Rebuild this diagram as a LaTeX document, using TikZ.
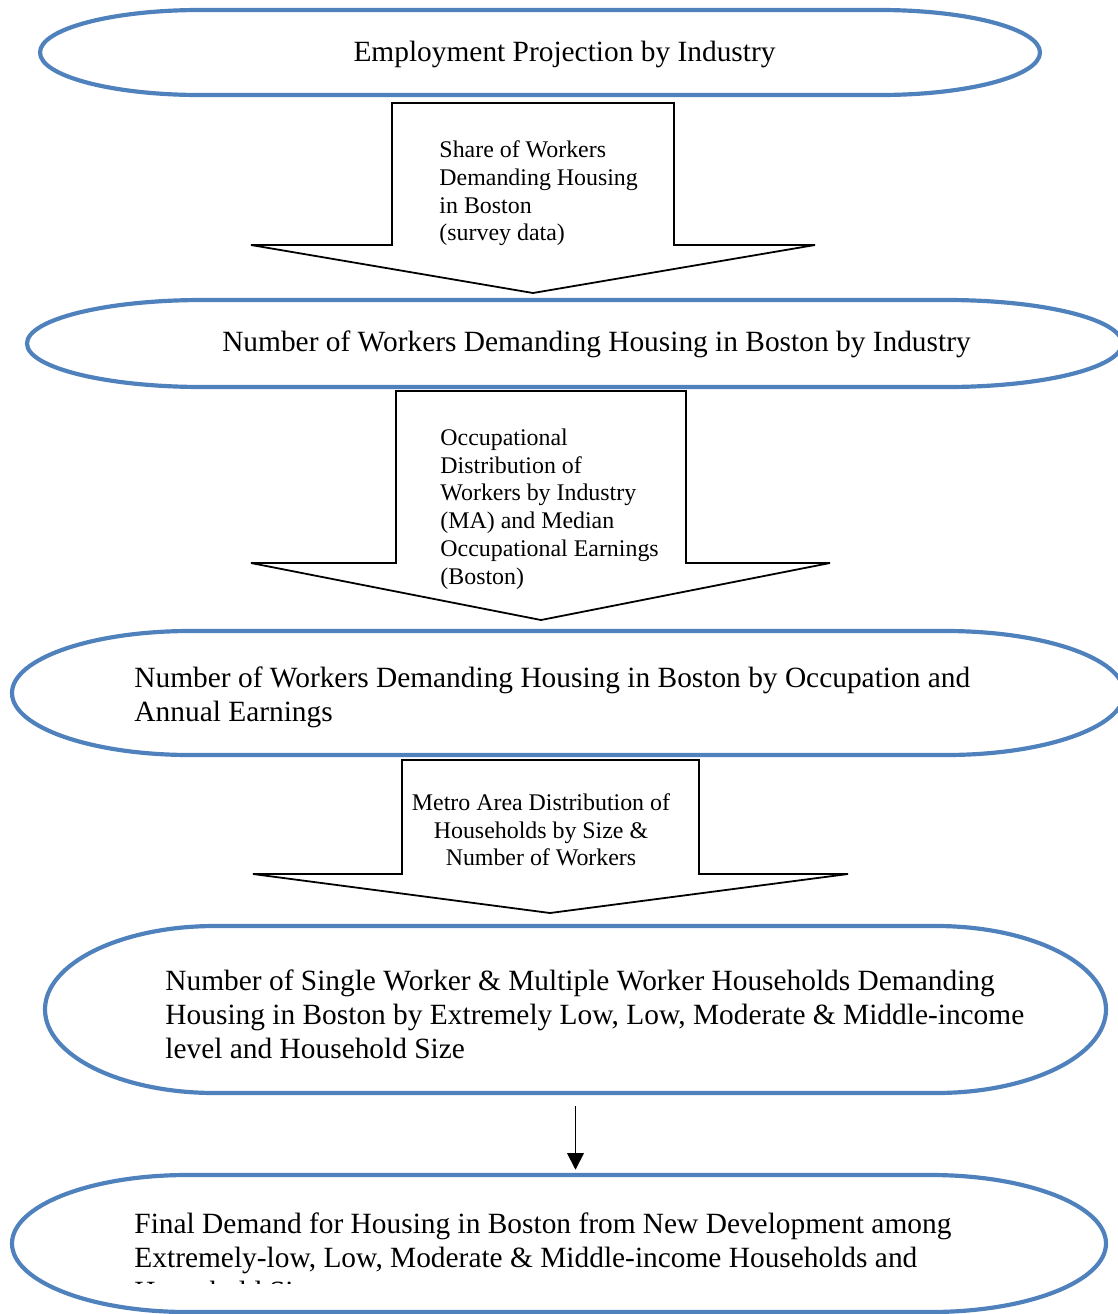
\documentclass[tikz,border=0pt]{standalone}
\usepackage{fontspec}
\setmainfont{Liberation Serif}
\usetikzlibrary{arrows.meta}

\definecolor{stageblue}{RGB}{79, 129, 189}

\tikzset{
	stageline/.style={draw=stageblue, line width=1.75pt, fill=white},
	stagebox/.style={rectangle, draw=none, inner sep=0pt},
	stagetext/.style={font=\fontsize{12.3}{14.2}\selectfont, inner sep=0pt, align=left},
	blockarrow/.style={draw=black, line width=0.75pt, fill=white, line join=miter},
	arrowtext/.style={font=\fontsize{10}{11.6}\selectfont, inner sep=0pt},
	flow/.style={-{Triangle[width=7pt,length=7pt]}, line width=0.75pt},
}

\begin{document}
\begin{tikzpicture}[x=0.4186pt, y=0.4186pt] % 1 Einheit = 1 Pixel der Vorlage
		
		% Rahmen (Bild wird am Rand abgeschnitten)
		\path[use as bounding box, clip] (0,0) rectangle (1118,-1314);
		
		% Blockpfeile zwischen den Stufen
		\foreach \sl/\sr/\st/\hy/\hl/\hr/\tx/\ty in {392/674/103/245/251/815/533/293, 396/686/391/563/251/830/541/620, 402/699/760/874/253/848/550/913} {
			\draw[blockarrow] (\sl,-\st) -- (\sl,-\hy) -- (\hl,-\hy) -- (\tx,-\ty) -- (\hr,-\hy) -- (\sr,-\hy) -- (\sr,-\st) -- cycle;
		}
		
		% Stufen (Ellipsen mit geraden Kanten)
		\foreach \i/\cx/\cy/\w/\h in {1/540/52.5/1000/85, 2/574.5/343.5/1095/87, 3/568/693/1112/124, 4/575.5/1009.5/1061/167, 5/559/1243.5/1094/137} {
			\pgfmathsetmacro{\rx}{0.16*\w}
			\node[stagebox, minimum width=\w*0.4186pt, minimum height=\h*0.4186pt] (s\i) at (\cx,-\cy) {};
			\draw[stageline] (\cx-\w/2+\rx,-\cy+\h/2) -- (\cx+\w/2-\rx,-\cy+\h/2)
				arc[start angle=90, end angle=-90, x radius=\rx, y radius=\h/2]
				-- (\cx-\w/2+\rx,-\cy-\h/2)
				arc[start angle=270, end angle=90, x radius=\rx, y radius=\h/2] -- cycle;
		}
		
		% Beschriftung der Stufen
		\node[stagetext] (t1) at (564.5,-54.5) {Employment Projection by Industry};
		\node[stagetext] (t2) at (596.5,-344) {Number of Workers Demanding Housing in Boston by Industry};
		\node[stagetext, anchor=west] (t3) at (134,-697.5) {Number of Workers Demanding Housing in Boston by Occupation and\\Annual Earnings};
		\node[stagetext, anchor=west] (t4) at (165,-1014) {Number of Single Worker \& Multiple Worker Households Demanding\\Housing in Boston by Extremely Low, Low, Moderate \& Middle-income\\level and Household Size};
		\begin{scope}
			\clip (0,-1180) rectangle (1118,-1283);
			\node[stagetext, anchor=west] (t5) at (134,-1257) {Final Demand for Housing in Boston from New Development among\\Extremely-low, Low, Moderate \& Middle-income Households and\\Household Size};
		\end{scope}
		
		% Beschriftung der Blockpfeile
		\node[arrowtext, anchor=west, align=left] (a1) at (439,-193.5) {Share of Workers\\Demanding Housing\\in Boston\\(survey data)};
		\node[arrowtext, anchor=west, align=left] (a2) at (440,-509) {Occupational\\Distribution of\\Workers by Industry\\(MA) and Median\\Occupational Earnings\\(Boston)};
		\node[arrowtext, align=center] (a3) at (541,-830) {Metro Area Distribution of\\Households by Size \&\\Number of Workers};
		
		% Pfeil zur letzten Stufe
		\draw[flow, shorten <=5.4pt, shorten >=2pt] (s4.south) -- (s4.south |- s5.north);
		
	\end{tikzpicture}
\end{document}
